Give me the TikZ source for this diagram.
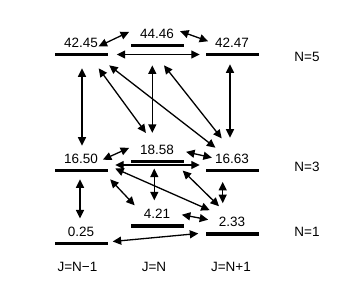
\documentclass[tikz,border=0pt]{standalone}
\usepackage{fontspec}
\setmainfont{Liberation Sans}
\usetikzlibrary{arrows.meta,positioning}

\begin{document}
\begin{tikzpicture}[x=1pt,y=-1pt,font=\fontsize{13.5}{16}\selectfont,
  bar/.style={fill,inner sep=0pt,minimum width=53pt,minimum height=3.3pt},
  lbl/.style={inner sep=2pt},
  arr/.style={{Triangle[length=8.5pt,width=8pt]}-{Triangle[length=8.5pt,width=8pt]},line width=1.3pt}]
\useasboundingbox (0,0) rectangle (338,300);
% levels
\node[bar] (b4245) at (81,54.5) {};
\node[bar] (b4446) at (157,45.5) {};
\node[bar] (b4247) at (232,54.5) {};
\node[bar] (b1650) at (81,170.5) {};
\node[bar] (b1858) at (157,161.7) {};
\node[bar] (b1663) at (232,170.5) {};
\node[bar] (b025) at (81,243.5) {};
\node[bar] (b421) at (157,226) {};
\node[bar] (b233) at (232,234) {};
\node[lbl,above=3pt of b4245] (t4245) {42.45};
\node[lbl,above=3pt of b4446] (t4446) {44.46};
\node[lbl,above=3pt of b4247] (t4247) {42.47};
\node[lbl,above=3pt of b1650] (t1650) {16.50};
\node[lbl,above=3pt of b1858] (t1858) {18.58};
\node[lbl,above=3pt of b1663] (t1663) {16.63};
\node[lbl,above=3pt of b025] (t025) {0.25};
\node[lbl,above=3pt of b421] (t421) {4.21};
\node[lbl,above=3pt of b233] (t233) {2.33};
% axis texts
\node[anchor=base] (jm) at (77.5,271.7) {J=N−1};
\node[anchor=base] (jn) at (154,271.7) {J=N};
\node[anchor=base] (jp) at (231,271.7) {J=N+1};
\node[anchor=base] (n5) at (307,61.7) {N=5};
\node[anchor=base] (n3) at (307,171.7) {N=3};
\node[anchor=base] (n1) at (307,236.7) {N=1};
% transitions
\draw[arr] ([shift={(-1.5,-3.3)}]t4245.south east) -- ([shift={(-8.8,-1.8)}]t4446.west);
\draw[arr] ([shift={(4,-2.5)}]t4446.east) -- ([shift={(-4.8,-1.5)}]t4247.west);
\draw[arr] ([shift={(9,0)}]b4245.east) -- ([shift={(-5.5,0)}]b4247.west);
\draw[arr] ([shift={(1,12)}]b4245.south) -- ([shift={(1,-6)}]t1650.north);
\draw[arr] ([shift={(-9,12)}]b4245.south east) -- ([shift={(8,-10)}]t1858.north west);
\draw[arr] ([shift={(1.5,9)}]b4245.south east) -- ([shift={(2.5,-4)}]t1663.north west);
\draw[arr] ([shift={(-4.7,18)}]b4446.south) -- ([shift={(-4.7,-10)}]t1858.north);
\draw[arr] ([shift={(7,18)}]b4446.south) -- ([shift={(-10.3,-13.3)}]t1663.north);
\draw[arr] ([shift={(-2,8)}]b4247.south) -- ([shift={(-2,-14)}]t1663.north);
\draw[arr] ([shift={(2.8,1)}]t1650.east) -- ([shift={(-8.8,-2)}]t1858.west);
\draw[arr] ([shift={(10,2)}]t1858.east) -- ([shift={(-1,-1)}]t1663.west);
\draw[arr] ([shift={(7.5,-5.5)}]b1650.east) -- ([shift={(-5.5,-5.5)}]b1663.west);
\draw[arr] ([shift={(7.5,-2)}]b1650.east) -- ([shift={(-7,-5)}]t233.north west);
\draw[arr] ([shift={(-1,7)}]b1650.south) -- ([shift={(-1,-6.3)}]t025.north);
\draw[arr] ([shift={(2.5,7)}]b1650.south east) -- ([shift={(-7,-2)}]t421.north west);
\draw[arr] ([shift={(-2.7,5)}]b1858.south) -- ([shift={(-2.7,-7)}]t421.north);
\draw[arr] ([shift={(-1,7)}]b1858.south east) -- ([shift={(-13,-9)}]t233.north);
\draw[arr] ([shift={(-9.3,9.5)}]b1663.south) -- ([shift={(-9.3,-12)}]t233.north);
\draw[arr] ([shift={(9.5,0.5)}]t421.east) -- ([shift={(-8.5,-2.5)}]t233.west);
\draw[arr] ([shift={(5,-2)}]b025.east) -- ([shift={(-7,-0.5)}]b233.west);
\end{tikzpicture}
\end{document}
